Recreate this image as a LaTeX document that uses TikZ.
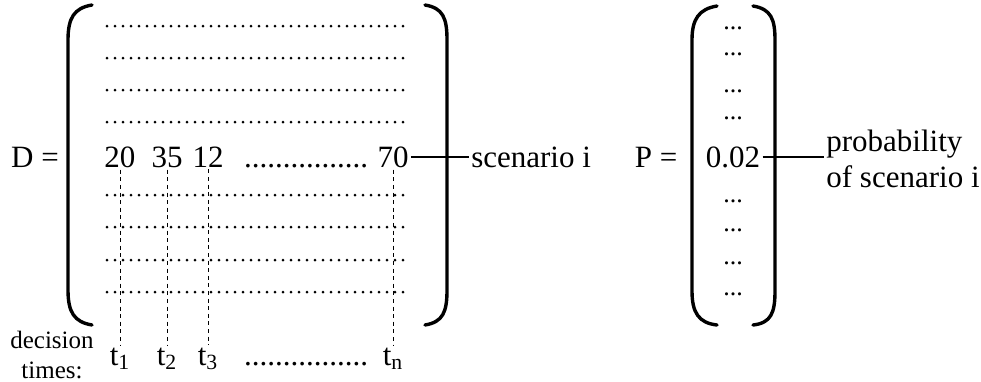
\documentclass[tikz,border=0pt]{standalone}
\usepackage{fontspec}
\setmainfont{Liberation Serif}
\usetikzlibrary{positioning}
\tikzset{
  entry/.style={inner sep=1pt,font=\fontsize{15.5}{18}\selectfont},
  ellip/.style={inner sep=0pt,font=\fontsize{13}{13}\selectfont},
  note/.style={inner sep=1pt,align=center,font=\fontsize{12.5}{15}\selectfont},
  bracket/.style={line width=1.7pt,line cap=round},
  dotrow/.style={line width=1.5pt,line cap=round,dash pattern=on 0pt off 4pt},
  timeline/.style={line width=0.5pt,dash pattern=on 2pt off 1.8pt},
  pointer/.style={line width=1pt}
}

\begin{document}
\begin{tikzpicture}[x=0.5pt,y=-0.5pt]
  \useasboundingbox (0,0) rectangle (981,381);
  % matrix D
  \node[entry] (D) at (35,157) {D =};
  \draw[bracket] (92,5) .. controls (74,8) and (68,18) .. (68,40) -- (68,290)
    .. controls (68,312) and (74,322) .. (92,325);
  \draw[bracket] (425,5) .. controls (443,8) and (447,18) .. (447,40) -- (447,290)
    .. controls (447,312) and (443,322) .. (425,325);
  \foreach \y in {26,58,90,122,195,227,260,292}
    \draw[dotrow] (107,\y) -- (409,\y);
  \node[entry,anchor=base] (v20) at (120,167) {20};
  \node[entry,anchor=base] (v35) at (167,167) {35};
  \node[entry,anchor=base] (v12) at (208,167) {12};
  \node[entry,anchor=base] (vdots) at (306,167) {................};
  \node[entry,anchor=base] (v70) at (393,167) {70};
  \node[entry,base right=29pt of v70] (scen) {scenario i};
  \draw[pointer] (v70.east) -- (v70.east -| scen.west);
  % decision times
  \node[note] (dec) at (52,355) {decision\\times:};
  \node[entry,anchor=base] (t1) at (120,365) {t\textsubscript{1}};
  \node[entry,anchor=base] (t2) at (167,365) {t\textsubscript{2}};
  \node[entry,anchor=base] (t3) at (208,365) {t\textsubscript{3}};
  \node[entry,anchor=base] (tdots) at (306,365) {................};
  \node[entry,anchor=base] (tn) at (393,365) {t\textsubscript{n}};
  \draw[timeline] (v20.south) -- (v20.south |- t1.north);
  \draw[timeline] (v35.south) -- (v35.south |- t2.north);
  \draw[timeline] (v12.south) -- (v12.south |- t3.north);
  \draw[timeline] (v70.south) -- (v70.south |- tn.north);
  % vector P
  \node[entry] (P) at (656,157) {P =};
  \draw[bracket] (717,6) .. controls (699,9) and (692,19) .. (692,40) -- (692,291)
    .. controls (692,313) and (699,323) .. (717,325);
  \draw[bracket] (753,6) .. controls (771,9) and (775,19) .. (775,40) -- (775,291)
    .. controls (775,313) and (771,323) .. (753,325);
  \foreach \y/\n in {27/a,53/b,90/c,117/d,200/e,229/f,262/g,293/h}
    \node[ellip,anchor=base] (p\n) at (733,\y+2) {...};
  \node[entry,anchor=base] (p02) at (733,167) {0.02};
  \node[entry,align=left,anchor=west] (prob) at (824,159) {probability\\of scenario i};
  \draw[pointer] (p02.east) -- (p02.east -| prob.west);
\end{tikzpicture}
\end{document}
